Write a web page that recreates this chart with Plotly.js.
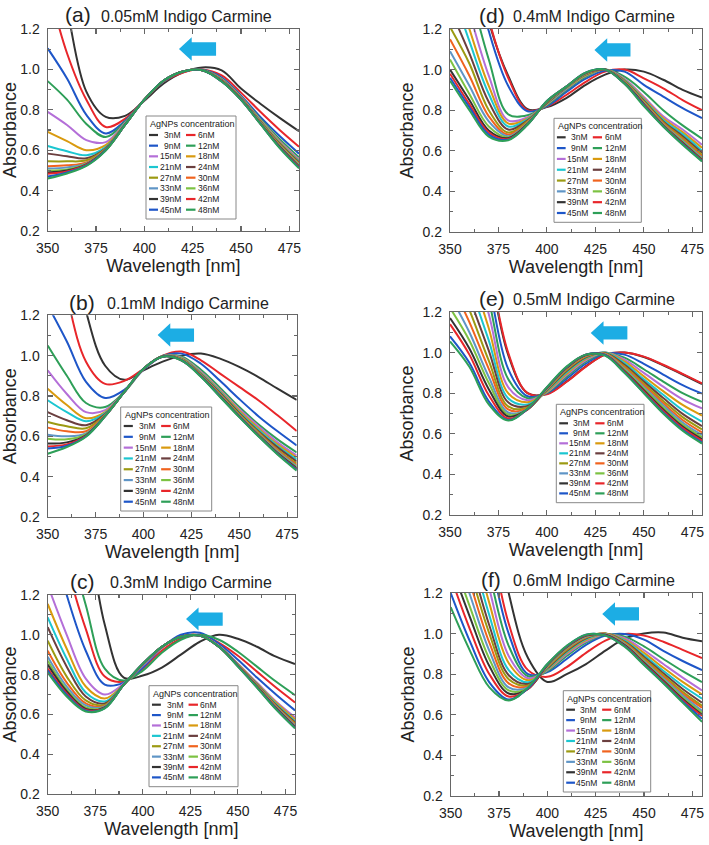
<!DOCTYPE html>
<html><head><meta charset="utf-8">
<script src="https://cdn.plot.ly/plotly-3.0.1.min.js"></script>
<style>html,body{margin:0;padding:0;background:#fff}#chart{width:709px;height:845px}</style>
</head><body><div id="chart"></div>
<script>
// ---------------- DATA ----------------
const wavelength = [350,360,370,380,390,400,410,420,430,440,450,460,470,480];
const concentrations = ['3nM','6nM','9nM','12nM','15nM','18nM','21nM','24nM','27nM','30nM','33nM','36nM','39nM','42nM','45nM','48nM'];
const panelLetters = ['(a)','(b)','(c)','(d)','(e)','(f)'];
const panelTitles = ['0.05mM Indigo Carmine','0.1mM Indigo Carmine','0.3mM Indigo Carmine','0.4mM Indigo Carmine','0.5mM Indigo Carmine','0.6mM Indigo Carmine'];
const legendTitle = 'AgNPs concentration';
const xTicks = [350,375,400,425,450,475];
const yTicks = [0.2,0.4,0.6,0.8,1.0,1.2];

// (a) 0.05 mM
const absA = [
 [1.75,1.30,0.89,0.765,0.77,0.845,0.93,0.985,1.01,0.995,0.905,0.83,0.76,0.694],
 [1.42,1.08,0.85,0.715,0.755,0.85,0.94,0.985,1.0,0.97,0.885,0.79,0.70,0.617],
 [1.104,0.955,0.775,0.683,0.745,0.85,0.94,0.99,0.998,0.96,0.87,0.765,0.67,0.583],
 [0.942,0.85,0.73,0.665,0.74,0.85,0.942,0.99,0.997,0.955,0.865,0.755,0.655,0.565],
 [0.79,0.725,0.65,0.64,0.735,0.85,0.943,0.99,0.996,0.952,0.862,0.75,0.645,0.555],
 [0.691,0.645,0.60,0.625,0.732,0.85,0.944,0.99,0.996,0.95,0.86,0.747,0.64,0.548],
 [0.621,0.595,0.575,0.615,0.73,0.85,0.944,0.99,0.996,0.948,0.858,0.744,0.635,0.545],
 [0.583,0.57,0.56,0.61,0.728,0.85,0.944,0.99,0.996,0.947,0.857,0.742,0.632,0.54],
 [0.545,0.545,0.55,0.607,0.727,0.85,0.944,0.99,0.996,0.946,0.855,0.74,0.628,0.535],
 [0.52,0.525,0.54,0.605,0.726,0.85,0.944,0.99,0.996,0.945,0.854,0.738,0.625,0.532],
 [0.509,0.515,0.535,0.603,0.725,0.85,0.945,0.99,0.996,0.944,0.853,0.736,0.622,0.528],
 [0.50,0.505,0.532,0.602,0.725,0.85,0.945,0.99,0.996,0.943,0.852,0.735,0.62,0.525],
 [0.49,0.50,0.53,0.601,0.725,0.85,0.945,0.99,0.996,0.942,0.851,0.733,0.617,0.52],
 [0.484,0.495,0.528,0.60,0.725,0.85,0.945,0.99,0.996,0.941,0.85,0.732,0.615,0.517],
 [0.47,0.49,0.525,0.60,0.725,0.85,0.945,0.99,0.996,0.94,0.85,0.731,0.613,0.514],
 [0.46,0.485,0.522,0.598,0.725,0.85,0.945,0.99,0.996,0.94,0.849,0.73,0.61,0.51]
];
// (b) 0.1 mM
const absB = [
 [2.2,1.7,1.22,0.95,0.88,0.927,0.97,1.0,1.01,0.985,0.944,0.894,0.836,0.78],
 [1.8,1.3,0.97,0.86,0.875,0.935,1.0,1.02,0.977,0.911,0.845,0.779,0.704,0.626],
 [1.25,1.07,0.87,0.79,0.83,0.93,0.998,1.01,0.96,0.875,0.785,0.70,0.625,0.555],
 [1.05,0.90,0.765,0.745,0.82,0.932,0.998,0.995,0.93,0.84,0.745,0.66,0.585,0.52],
 [0.927,0.81,0.72,0.73,0.82,0.933,0.997,0.99,0.92,0.83,0.735,0.65,0.57,0.505],
 [0.836,0.755,0.69,0.72,0.82,0.934,0.997,0.988,0.915,0.825,0.727,0.64,0.56,0.495],
 [0.779,0.72,0.675,0.715,0.82,0.935,0.997,0.985,0.912,0.82,0.72,0.632,0.552,0.485],
 [0.72,0.68,0.655,0.71,0.82,0.935,0.997,0.983,0.908,0.815,0.715,0.625,0.545,0.475],
 [0.671,0.65,0.64,0.707,0.82,0.935,0.996,0.982,0.905,0.81,0.71,0.62,0.535,0.465],
 [0.643,0.625,0.625,0.705,0.82,0.935,0.996,0.98,0.903,0.807,0.707,0.615,0.53,0.458],
 [0.608,0.60,0.615,0.703,0.82,0.935,0.996,0.979,0.901,0.804,0.704,0.612,0.525,0.452],
 [0.588,0.585,0.61,0.702,0.82,0.935,0.996,0.978,0.90,0.802,0.702,0.609,0.52,0.447],
 [0.564,0.57,0.605,0.701,0.82,0.935,0.996,0.977,0.899,0.80,0.70,0.606,0.517,0.442],
 [0.55,0.56,0.602,0.70,0.82,0.935,0.995,0.976,0.898,0.798,0.698,0.604,0.514,0.438],
 [0.539,0.553,0.60,0.70,0.82,0.935,0.995,0.976,0.897,0.797,0.697,0.602,0.512,0.435],
 [0.514,0.547,0.598,0.70,0.82,0.935,0.995,0.975,0.895,0.795,0.695,0.60,0.51,0.43]
];
// (c) 0.3 mM
const absC = [
 [2.6,2.1,1.6,1.05,0.785,0.795,0.835,0.90,0.965,1.0,0.98,0.94,0.89,0.853],
 [1.75,1.35,1.03,0.79,0.765,0.83,0.92,0.98,1.0,0.96,0.895,0.815,0.735,0.66],
 [1.55,1.2,0.92,0.75,0.76,0.835,0.935,1.0,1.01,0.955,0.875,0.785,0.70,0.62],
 [1.9,1.5,1.15,0.83,0.77,0.82,0.91,0.975,1.0,0.975,0.915,0.84,0.765,0.697],
 [1.25,1.0,0.78,0.70,0.755,0.845,0.935,0.99,0.997,0.945,0.855,0.76,0.665,0.585],
 [1.155,0.93,0.74,0.68,0.75,0.85,0.937,0.99,0.996,0.943,0.852,0.755,0.66,0.575],
 [1.088,0.88,0.71,0.665,0.75,0.85,0.938,0.99,0.996,0.942,0.85,0.752,0.652,0.565],
 [1.038,0.84,0.69,0.655,0.75,0.852,0.938,0.99,0.996,0.941,0.849,0.75,0.647,0.56],
 [0.97,0.79,0.67,0.648,0.75,0.852,0.939,0.99,0.996,0.94,0.848,0.748,0.643,0.555],
 [0.92,0.76,0.655,0.643,0.75,0.853,0.939,0.99,0.996,0.94,0.847,0.746,0.64,0.55],
 [0.89,0.74,0.645,0.64,0.75,0.853,0.94,0.99,0.996,0.94,0.846,0.744,0.637,0.545],
 [0.87,0.725,0.635,0.637,0.75,0.854,0.94,0.99,0.996,0.94,0.845,0.742,0.634,0.54],
 [0.85,0.715,0.628,0.635,0.75,0.854,0.94,0.99,0.996,0.94,0.844,0.74,0.632,0.537],
 [0.83,0.705,0.622,0.633,0.75,0.854,0.94,0.99,0.996,0.94,0.843,0.738,0.63,0.535],
 [0.82,0.698,0.618,0.632,0.75,0.855,0.94,0.99,0.996,0.94,0.842,0.736,0.628,0.532],
 [0.81,0.69,0.615,0.63,0.75,0.855,0.94,0.99,0.996,0.94,0.84,0.735,0.625,0.53]
];
// (d) 0.4 mM
const absD = [
 [2.3,1.75,1.24,0.97,0.805,0.815,0.86,0.925,0.975,1.0,0.99,0.95,0.90,0.862],
 [2.2,1.7,1.25,0.96,0.80,0.818,0.875,0.94,0.99,1.0,0.957,0.908,0.85,0.80],
 [2.0,1.6,1.19,0.92,0.795,0.82,0.89,0.955,0.995,0.99,0.925,0.867,0.81,0.761],
 [1.75,1.4,1.05,0.78,0.775,0.825,0.90,0.965,1.0,0.965,0.89,0.80,0.725,0.66],
 [1.6,1.28,0.97,0.75,0.765,0.83,0.905,0.97,1.0,0.955,0.865,0.77,0.705,0.63],
 [1.5,1.2,0.92,0.735,0.76,0.832,0.908,0.972,1.0,0.95,0.858,0.76,0.692,0.615],
 [1.42,1.14,0.88,0.72,0.755,0.834,0.91,0.975,1.0,0.947,0.852,0.752,0.682,0.60],
 [1.3,1.08,0.84,0.705,0.75,0.836,0.912,0.977,1.0,0.944,0.847,0.745,0.672,0.59],
 [1.21,1.03,0.80,0.69,0.745,0.838,0.913,0.978,1.0,0.942,0.843,0.74,0.663,0.58],
 [1.15,0.97,0.77,0.68,0.74,0.84,0.914,0.98,1.0,0.94,0.84,0.735,0.656,0.572],
 [1.09,0.92,0.745,0.672,0.737,0.841,0.915,0.981,1.0,0.938,0.836,0.73,0.65,0.565],
 [1.05,0.88,0.72,0.666,0.734,0.842,0.915,0.982,1.0,0.936,0.833,0.727,0.645,0.56],
 [1.0,0.85,0.70,0.662,0.732,0.843,0.916,0.983,1.0,0.934,0.83,0.725,0.64,0.556],
 [0.98,0.83,0.69,0.658,0.73,0.844,0.916,0.984,1.0,0.932,0.827,0.723,0.636,0.553],
 [0.96,0.815,0.68,0.655,0.729,0.845,0.916,0.985,1.0,0.931,0.824,0.721,0.633,0.55],
 [0.945,0.80,0.67,0.652,0.728,0.845,0.916,0.985,1.0,0.93,0.82,0.72,0.63,0.548]
];
// (e) 0.5 mM
const absE = [
 [2.5,1.95,1.44,0.99,0.80,0.797,0.857,0.932,0.99,1.0,0.978,0.937,0.892,0.845],
 [2.5,1.95,1.45,1.0,0.80,0.795,0.855,0.93,0.99,1.0,0.98,0.94,0.895,0.848],
 [2.2,1.76,1.34,0.92,0.785,0.80,0.87,0.945,0.995,0.99,0.945,0.892,0.84,0.798],
 [2.0,1.62,1.26,0.87,0.775,0.802,0.88,0.955,0.998,0.975,0.918,0.857,0.80,0.757],
 [1.86,1.52,1.19,0.83,0.765,0.805,0.888,0.962,1.0,0.965,0.90,0.832,0.77,0.725],
 [1.73,1.42,1.12,0.80,0.755,0.808,0.895,0.968,1.0,0.957,0.883,0.81,0.742,0.69],
 [1.62,1.34,1.06,0.775,0.745,0.812,0.902,0.973,1.0,0.948,0.868,0.792,0.717,0.66],
 [1.52,1.27,1.01,0.755,0.737,0.815,0.908,0.977,0.998,0.94,0.857,0.776,0.698,0.638],
 [1.43,1.21,0.96,0.735,0.73,0.818,0.913,0.98,0.996,0.932,0.847,0.762,0.682,0.622],
 [1.35,1.15,0.92,0.72,0.725,0.82,0.917,0.983,0.994,0.926,0.838,0.75,0.668,0.607],
 [1.28,1.10,0.88,0.705,0.722,0.822,0.92,0.985,0.992,0.92,0.83,0.74,0.656,0.594],
 [1.22,1.06,0.85,0.695,0.72,0.824,0.922,0.987,0.99,0.915,0.822,0.73,0.645,0.583],
 [1.17,1.02,0.82,0.685,0.72,0.826,0.924,0.988,0.989,0.91,0.815,0.72,0.636,0.574],
 [1.14,0.99,0.79,0.675,0.72,0.828,0.926,0.989,0.988,0.906,0.809,0.713,0.628,0.566],
 [1.08,0.95,0.76,0.668,0.722,0.829,0.928,0.99,0.987,0.902,0.803,0.705,0.62,0.558],
 [1.055,0.93,0.745,0.665,0.725,0.83,0.93,0.99,0.985,0.90,0.80,0.70,0.615,0.552]
];
// (f) 0.6 mM
const absF = [
 [3.0,2.4,1.75,1.2,0.88,0.762,0.80,0.85,0.916,0.975,1.0,1.005,0.98,0.962],
 [2.6,2.05,1.5,1.05,0.82,0.787,0.835,0.905,0.965,0.998,0.99,0.96,0.92,0.88],
 [2.4,1.9,1.4,1.0,0.80,0.81,0.875,0.945,0.99,0.998,0.97,0.915,0.865,0.82],
 [2.2,1.75,1.3,0.94,0.79,0.815,0.89,0.955,0.995,0.985,0.937,0.875,0.815,0.761],
 [2.05,1.62,1.22,0.89,0.78,0.82,0.898,0.962,0.997,0.977,0.918,0.85,0.783,0.72],
 [1.9,1.52,1.15,0.855,0.77,0.823,0.905,0.968,0.998,0.97,0.905,0.832,0.762,0.70],
 [1.8,1.44,1.09,0.82,0.76,0.826,0.91,0.973,0.999,0.965,0.893,0.817,0.743,0.68],
 [1.7,1.37,1.04,0.795,0.752,0.83,0.915,0.977,1.0,0.96,0.885,0.805,0.727,0.66],
 [1.62,1.31,1.0,0.775,0.745,0.833,0.92,0.98,1.0,0.957,0.877,0.795,0.713,0.645],
 [1.55,1.25,0.955,0.755,0.74,0.836,0.924,0.983,0.999,0.953,0.87,0.787,0.703,0.635],
 [1.47,1.19,0.915,0.735,0.735,0.839,0.928,0.986,0.998,0.95,0.865,0.78,0.695,0.62],
 [1.4,1.13,0.875,0.72,0.73,0.842,0.931,0.988,0.996,0.946,0.86,0.773,0.685,0.61],
 [1.34,1.08,0.84,0.705,0.727,0.845,0.934,0.99,0.994,0.943,0.856,0.768,0.678,0.60],
 [1.28,1.02,0.80,0.69,0.727,0.847,0.936,0.992,0.992,0.94,0.852,0.763,0.672,0.595],
 [1.2,0.96,0.76,0.675,0.73,0.849,0.938,0.994,0.991,0.938,0.848,0.758,0.665,0.58],
 [1.13,0.915,0.735,0.67,0.735,0.85,0.94,0.995,0.99,0.935,0.845,0.755,0.66,0.565]
];
const panelData = [absA, absB, absC, absD, absE, absF];

// ---------------- STYLE / LAYOUT CONFIG ----------------
const seriesColors = ['#333333','#E8262A','#1E56C8','#2E9F58','#B46FD8','#D99A0F','#1CC6D0','#6B3F3F',
                      '#9C9A12','#F0631E','#5F95C6','#7CC242','#333333','#E8262A','#1E56C8','#2E9F58'];
const W = 709, H = 845;
// plot boxes in pixels [left, top, right, bottom]
const panelBox = [[47.7,29,299,231],[47.7,315.3,296.7,517],[47.7,595,295,794],
                  [450,29,702,232],[450,312,702,515],[450.7,593,702,796]];
// title: [letter x, center y, text x]
const titlePos = [[62.7,15,99],[66.7,302.7,105],[68.3,581.3,108.3],[477.3,15.7,510.7],[477.3,298.7,510.7],[479,579.7,510.7]];
// legend boxes [left, top, width, height]
const legendPos = [[146,116,90,103],[120.7,407,91,104],[149,685.7,89,101],[554,118.3,87.3,104],[556.3,404.3,87.7,98.4],[563.3,690.7,87.4,101.3]];
// arrows [tip, tail, center] in data units
const arrowPos = [[417.9,437.1,1.101],[407.4,426.4,1.102],[422.7,442.0,1.079],[424.5,443.1,1.097],[422.6,441.5,1.097],[428.4,447.4,1.097]];
const FONT = 'Liberation Sans, Arial, Helvetica, sans-serif';

const traces = [];
const layout = {
  width: W, height: H, margin: {l:0,r:0,t:0,b:0},
  paper_bgcolor: '#ffffff', plot_bgcolor: '#ffffff',
  showlegend: false, font: {family: FONT, color: '#222'},
  shapes: [], annotations: []
};
const px = v => v / W;
const py = v => 1 - v / H;

panelData.forEach((rows, p) => {
  const n = p + 1;
  const xa = n === 1 ? 'x' : 'x' + n, ya = n === 1 ? 'y' : 'y' + n;
  const xk = n === 1 ? 'xaxis' : 'xaxis' + n, yk = n === 1 ? 'yaxis' : 'yaxis' + n;
  const b = panelBox[p];
  const common = {
    showline: true, linecolor: '#666', linewidth: 1.2, mirror: 'allticks',
    ticks: 'inside', ticklen: 5, tickwidth: 1.1, tickcolor: '#666',
    showgrid: false, zeroline: false, fixedrange: true,
    tickfont: {size: 14, color: '#222', family: FONT}
  };
  layout[xk] = Object.assign({}, common, {
    domain: [px(b[0]), px(b[2])], anchor: ya, range: [350, 480],
    tickmode: 'array', tickvals: xTicks, ticklabelstandoff: 4,
    minor: {ticks: 'inside', ticklen: 3, tickcolor: '#666', dtick: 12.5, tick0: 350},
    title: {text: 'Wavelength [nm]', font: {size: 18, color: '#222', family: FONT}, standoff: 3}
  });
  layout[yk] = Object.assign({}, common, {
    domain: [py(b[3]), py(b[1])], anchor: xa, range: [0.2, 1.2],
    tickmode: 'array', tickvals: yTicks, tickformat: '.1f', ticklabelstandoff: 4,
    minor: {ticks: 'inside', ticklen: 3, tickcolor: '#666', dtick: 0.1, tick0: 0.2},
    title: {text: 'Absorbance', font: {size: 18, color: '#222', family: FONT}, standoff: 4}
  });
  rows.forEach((vals, i) => {
    traces.push({
      x: wavelength, y: vals, xaxis: xa, yaxis: ya, type: 'scatter', mode: 'lines',
      name: concentrations[i], hoverinfo: 'skip',
      line: {color: seriesColors[i], width: 2, shape: 'spline', smoothing: 1}
    });
  });
  // titles
  const t = titlePos[p];
  layout.annotations.push({xref:'paper', yref:'paper', x: px(t[0]), y: py(t[1]), xanchor:'left', yanchor:'middle',
    text: panelLetters[p], showarrow:false, font:{size:21, color:'#222', family: FONT}});
  layout.annotations.push({xref:'paper', yref:'paper', x: px(t[2]), y: py(t[1]+1), xanchor:'left', yanchor:'middle',
    text: panelTitles[p], showarrow:false, font:{size:16, color:'#222', family: FONT}});
  // arrow
  const a = arrowPos[p];
  const hl = 6.6, hh = 0.058, bh = 0.033;
  layout.shapes.push({type:'path', xref: xa, yref: ya, layer:'above',
    path: `M ${a[0]},${a[2]} L ${a[0]+hl},${a[2]+hh} L ${a[0]+hl},${a[2]+bh} L ${a[1]},${a[2]+bh} L ${a[1]},${a[2]-bh} L ${a[0]+hl},${a[2]-bh} L ${a[0]+hl},${a[2]-hh} Z`,
    fillcolor:'#1CADE4', line:{width:0}});
  // legend
  const L = legendPos[p];
  const sx = L[2] / 90;
  layout.shapes.push({type:'rect', xref:'paper', yref:'paper', layer:'above',
    x0: px(L[0]), x1: px(L[0]+L[2]), y0: py(L[1]+L[3]), y1: py(L[1]),
    line:{color:'#888', width:1}, fillcolor:'#ffffff'});
  layout.annotations.push({xref:'paper', yref:'paper', x: px(L[0]+2), y: py(L[1]+8), xanchor:'left', yanchor:'middle',
    text: legendTitle, showarrow:false, font:{size:9, color:'#222', family: FONT}});
  const step = (L[3] - 28.3) / 7;
  concentrations.forEach((c, i) => {
    const row = Math.floor(i / 2), col = i % 2;
    const yy = L[1] + 19 + row * step;
    const lx0 = L[0] + (col ? 40 : 3) * sx, lx1 = L[0] + (col ? 49.5 : 12) * sx;
    layout.shapes.push({type:'line', xref:'paper', yref:'paper', layer:'above',
      x0: px(lx0), x1: px(lx1), y0: py(yy), y1: py(yy), line:{color: seriesColors[i], width: 2.2}});
    layout.annotations.push({xref:'paper', yref:'paper', showarrow:false,
      x: px(L[0] + (col ? 50 : 37) * sx), y: py(yy), xanchor: col ? 'left' : 'right', yanchor:'middle',
      text: c, font:{size:8.5, color:'#222', family: FONT}});
  });
});

Plotly.newPlot('chart', traces, layout, {staticPlot: true, displayModeBar: false});
</script>
</body></html>
